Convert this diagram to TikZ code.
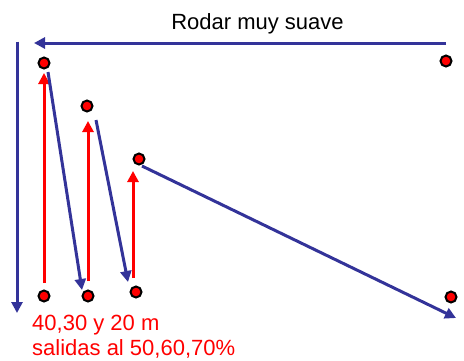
\documentclass[tikz,border=0pt]{standalone}
\usepackage{fontspec}
\setmainfont{Liberation Sans}
\usetikzlibrary{arrows.meta}
\definecolor{navy}{RGB}{51,51,153}
\definecolor{pred}{RGB}{255,0,0}
\tikzset{
  dot/.style={circle,fill=pred,draw=black,line width=2pt,minimum size=11pt,inner sep=0pt},
  bluearrow/.style={draw=navy,line width=3pt,-{Triangle[length=11pt,width=11pt]}},
  bluebar/.style={draw=navy,line width=3pt},
  redarrow/.style={draw=pred,line width=3pt,-{Triangle[length=11pt,width=11pt]}},
  lbl/.style={font=\fontsize{22}{25}\selectfont,inner sep=0pt}
}
\begin{document}
\begin{tikzpicture}[x=1pt,y=-1pt]
\useasboundingbox (0,0) rectangle (464,360);
% dots
\node[dot] (t1) at (44,63) {};
\node[dot] (t2) at (87,106) {};
\node[dot] (t3) at (139,159) {};
\node[dot] (tr) at (446,61) {};
\node[dot] (b1) at (44,296) {};
\node[dot] (b2) at (88,296) {};
\node[dot] (b3) at (136,292) {};
\node[dot] (br) at (451,297) {};
% title
\node[lbl,anchor=base] (title) at (257.5,29) {Rodar muy suave};
% top arrow and left down arrow
\coordinate (topR) at (446,43);
\coordinate (topL) at (34,43);
\coordinate (leftT) at (17,41.5);
\coordinate (leftB) at (17,313);
\draw[bluearrow] (topR) -- (topL);
\draw[bluearrow] (leftT) -- (leftB);
% red arrows
\coordinate (r1s) at (44,283); \coordinate (r1e) at (44,73);
\coordinate (r2s) at (88,281); \coordinate (r2e) at (88,121);
\coordinate (r3s) at (133,278); \coordinate (r3e) at (133,171);
\draw[redarrow] (r1s) -- (r1e);
\draw[redarrow] (r2s) -- (r2e);
\draw[redarrow] (r3s) -- (r3e);
% blue diagonals
\coordinate (d1s) at (48,72); \coordinate (d1e) at (82,290);
\coordinate (d2s) at (96,120); \coordinate (d2e) at (128,282);
\coordinate (d3s) at (142,166); \coordinate (d3e) at (456,318);
\draw[bluearrow] (d1s) -- (d1e);
\draw[bluearrow] (d2s) -- (d2e);
\draw[bluearrow] (d3s) -- (d3e);
% red text
\node[lbl,text=pred,anchor=base west] (l1) at (32,330) {40,30 y 20 m};
\node[lbl,text=pred,anchor=base west] (l2) at (32,355) {salidas al 50,60,70\%};
\end{tikzpicture}
\end{document}
